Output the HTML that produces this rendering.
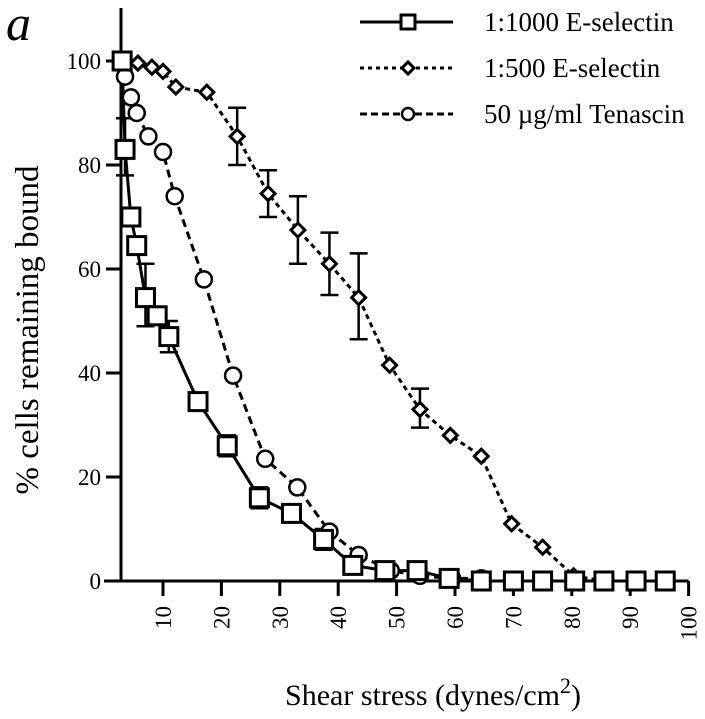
<!DOCTYPE html>
<html><head><meta charset="utf-8"><style>
html,body{margin:0;padding:0;background:#fff;}
svg{display:block;font-family:"Liberation Serif",serif;}
</style></head><body>
<svg id="chart" width="705" height="719" viewBox="0 0 705 719">
<text x="6" y="40" font-size="50" font-style="italic">a</text>
<g id="axes"></g>
<g id="series"></g>
<g id="legend"></g>
<text transform="translate(38,330) rotate(-90)" text-anchor="middle" font-size="33">% cells remaining bound</text>
<text x="433" y="705" text-anchor="middle" font-size="30">Shear stress (dynes/cm<tspan dy="-12" font-size="22">2</tspan><tspan dy="12">)</tspan></text>
</svg>
<script>
const xTicks=[10,20,30,40,50,60,70,80,90,100];
const yTicks=[0,20,40,60,80,100];
const sqX=[3,3.5,4.5,5.5,7,9,11,16,21,26.5,32,37.5,42.5,48,53.5,59,64.5,70,75,80.5,85.5,91,96];
const sqY=[100,83,70,64.5,54.5,51,47,34.5,26,16,13,8,3,2,2,0.5,0,0,0,0,0,0,0];
const sqErrX=[3.5,7,11,21,26.5,37.5];
const sqErrLo=[78,49,44,24,14,6];
const sqErrHi=[89,61,50,28,18,10];
const diX=[3,5.7,8.1,10,12.2,17.5,22.7,28,33.1,38.5,43.5,48.8,54,59.2,64.5,69.7,75,80.3,85.5,90.8,96];
const diY=[100,99.6,98.8,98,95,94,85.5,74.5,67.5,61,54.5,41.5,33,28,24,11,6.5,1,0,0,0];
const diErrX=[22.7,28,33.1,38.5,43.5,54];
const diErrLo=[80,70,61,55,46.5,29.5];
const diErrHi=[91,79,74,67,63,37];
const ciX=[3.5,4.5,5.5,7.5,10,12,17,22,27.5,33,38.5,43.5,49,54,59.5,64.5];
const ciY=[97,93,90,85.5,82.5,74,58,39.5,23.5,18,9.5,5,2,1,0.5,0.5];

const NS='http://www.w3.org/2000/svg';
const X=v=>163+(v-10)*5.84;
const Y=v=>581-v*5.2;
function mk(tag,at,parent){const e=document.createElementNS(NS,tag);for(const k in at)e.setAttribute(k,at[k]);parent.appendChild(e);return e;}
const axes=document.getElementById('axes');
let e=mk('line',{x1:121,y1:8,x2:121,y2:Y(0),stroke:'#000','stroke-width':3},axes);


e=mk('line',{x1:104,y1:Y(0),x2:X(100),y2:Y(0),stroke:'#000','stroke-width':3},axes);


yTicks.forEach(t=>{
 let l=mk('line',{x1:106,y1:Y(t),x2:121,y2:Y(t),stroke:'#000','stroke-width':3},axes);
 
 
 let tx=mk('text',{x:101,y:Y(t)+8,'text-anchor':'end','font-size':23},axes);tx.textContent=t;
 
 
});
xTicks.forEach(t=>{
 let l=mk('line',{x1:X(t),y1:Y(0),x2:X(t),y2:Y(0)+15,stroke:'#000','stroke-width':3},axes);
 
 
 let tx=mk('text',{transform:`translate(${X(t)+8},606) rotate(-90)`,'text-anchor':'end','font-size':23},axes);tx.textContent=t;
 
 
});
const ser=document.getElementById('series');
function errs(xs,lo,hi,name){xs.forEach((x,i)=>{
 const g=mk('g',{stroke:'#000','stroke-width':2.5},ser);
 
 
 mk('line',{x1:X(x),y1:Y(lo[i]),x2:X(x),y2:Y(hi[i])},g);
 mk('line',{x1:X(x)-9,y1:Y(lo[i]),x2:X(x)+9,y2:Y(lo[i])},g);
 mk('line',{x1:X(x)-9,y1:Y(hi[i]),x2:X(x)+9,y2:Y(hi[i])},g);
});}
function line(xs,ys,dash,name){const p=mk('polyline',{points:xs.map((x,i)=>X(x)+','+Y(ys[i])).join(' '),fill:'none',stroke:'#000','stroke-width':3,'stroke-dasharray':dash},ser);
 
 }
errs(sqErrX,sqErrLo,sqErrHi,'error-bar-1000');
errs(diErrX,diErrLo,diErrHi,'error-bar-500');
line(ciX,ciY,'8,5','tenascin-line');
line(diX,diY,'5,4','e-selectin-500-line');
line(sqX,sqY,'','e-selectin-1000-line');
function sq(cx,cy,g,s){s=s||9;mk('rect',{x:cx-s,y:cy-s,width:2*s,height:2*s,fill:'#fff',stroke:'#000','stroke-width':3},g);}
function di(cx,cy,g,s){s=s||7;mk('polygon',{points:`${cx},${cy-s} ${cx+s},${cy} ${cx},${cy+s} ${cx-s},${cy}`,fill:'#fff',stroke:'#000','stroke-width':3},g);}
function ci(cx,cy,g,s){s=s||8;mk('circle',{cx:cx,cy:cy,r:s,fill:'#fff',stroke:'#000','stroke-width':2.5},g);}
ciX.forEach((x,i)=>{const g=mk('g',{},ser);ci(X(x),Y(ciY[i]),g);});
diX.forEach((x,i)=>{const g=mk('g',{},ser);di(X(x),Y(diY[i]),g);});
sqX.forEach((x,i)=>{const g=mk('g',{},ser);sq(X(x),Y(sqY[i]),g);});
const leg=document.getElementById('legend');
const labels=['1:1000 E-selectin','1:500 E-selectin','50 \u00b5g/ml Tenascin'];
const dashes=['','4,4','7,4'];
const syms=[sq,di,ci];
const symSizes=[7,6,6];
labels.forEach((lb,i)=>{
 const y=22+i*46;
 const g=mk('g',{},leg);
 
 
 mk('line',{x1:360,y1:y,x2:453,y2:y,stroke:'#000','stroke-width':3,'stroke-dasharray':dashes[i]},g);
 syms[i](408,y,g,symSizes[i]);
 const t=mk('text',{x:484,y:y+9,'font-size':27},g);t.textContent=lb;
});
</script>
</body></html>
